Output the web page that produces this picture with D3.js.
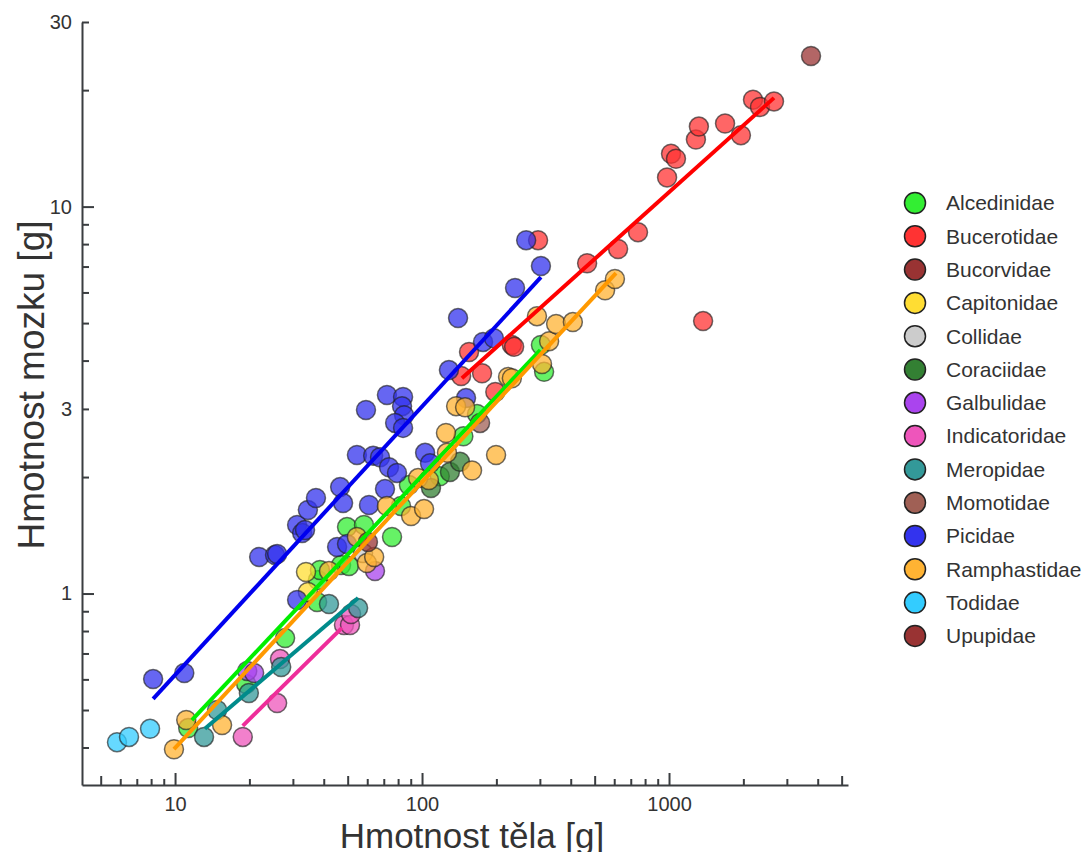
<!DOCTYPE html>
<html>
<head>
<meta charset="utf-8">
<script src="https://cdn.jsdelivr.net/npm/d3@7"></script>
<style>
body { margin: 0; background: #fff; }
svg { display: block; }
text { font-family: "Liberation Sans", Arial, sans-serif; fill: #333; }
</style>
</head>
<body>
<script>
// families in legend order
var families = ["Alcedinidae", "Bucerotidae", "Bucorvidae", "Capitonidae", "Collidae", "Coraciidae", "Galbulidae",
    "Indicatoridae", "Meropidae", "Momotidae", "Picidae", "Ramphastidae", "Todidae", "Upupidae"];
var familyColors = ["#33ee33", "#ff3333", "#993333", "#ffdd33", "#cccccc", "#338033", "#aa44ee",
    "#ee55bb", "#339999", "#a06055", "#3333ee", "#ffb333", "#33ccff", "#993333"];

// body mass [g] and brain mass [g] per family
var bodyAlcedinidae = [11.3, 19.4, 27.9, 37.6, 37.9, 38.6, 47.0, 50.6, 49.7, 58.2, 75.6, 82.2, 88.5, 118, 147, 167, 303, 312];
var brainAlcedinidae = [0.449, 0.584, 0.767, 0.951, 1.084, 1.150, 1.185, 1.178, 1.485, 1.503, 1.40, 1.683, 1.907, 2.01, 2.55, 2.91, 4.39, 3.74];
var bodyBucerotidae = [144, 155, 175, 198, 231, 236, 295, 466, 622, 749, 982, 1019, 1067, 1285, 1321, 1686, 1955, 2188, 2335, 2661, 1374];
var brainBucerotidae = [3.65, 4.21, 3.71, 3.32, 4.39, 4.34, 8.19, 7.14, 7.77, 8.59, 11.9, 13.7, 13.3, 14.9, 16.1, 16.4, 15.3, 18.9, 18.1, 18.7, 5.06];
var bodyBucorvidae = [3758];
var brainBucorvidae = [24.5];
var bodyCapitonidae = [33.9, 34.5];
var brainCapitonidae = [1.137, 1.009];
var bodyCollidae = [57.7];
var brainCollidae = [1.272];
var bodyCoraciidae = [108.7, 129.7, 142.5];
var brainCoraciidae = [1.874, 2.06, 2.19];
var bodyGalbulidae = [19.6, 20.9, 64.5];
var brainGalbulidae = [0.631, 0.623, 1.143];
var bodyIndicatoridae = [18.8, 25.9, 26.6, 48.3, 51.1, 51.6];
var brainIndicatoridae = [0.426, 0.521, 0.677, 0.829, 0.829, 0.885];
var bodyMeropidae = [13.1, 14.8, 19.9, 26.9, 42.0, 55.1];
var brainMeropidae = [0.426, 0.500, 0.553, 0.646, 0.939, 0.917];
var bodyMomotidae = [171.8];
var brainMomotidae = [2.76];
var bodyPicidae = [8.15, 10.9, 21.9, 25.4, 25.9, 31.2, 32.7, 33.6, 34.5, 37.2, 31.2, 46.6, 47.9, 45.3, 49.7, 54.5, 63.4, 67.6, 73.5, 79.2,
    59.3, 72.1, 83.8, 83.0, 84.6, 77.8, 83.8, 70.8, 61.0, 102.9, 107.7, 128.5, 150.7, 139.9, 176.6, 195.5, 238, 264, 303];
var brainPicidae = [0.601, 0.623, 1.243, 1.257, 1.265, 1.503, 1.433, 1.459, 1.644, 1.765, 0.962, 1.884, 1.713, 1.319, 1.342, 2.28, 2.27, 2.25, 2.12, 2.05,
    2.98, 3.26, 3.22, 3.05, 2.89, 2.76, 2.68, 1.862, 1.693, 2.31, 2.17, 3.78, 3.20, 5.15, 4.47, 4.57, 6.16, 8.19, 7.02];
var bodyRamphastidae = [9.9, 11.1, 15.5, 42.0, 54.5, 59.8, 64.0, 72.1, 90.3, 101.9, 96.4, 106.6, 125, 126.2, 137.4, 149.4, 159.4, 199.4,
    223, 231, 292, 306, 327, 349, 408, 551, 604];
var brainRamphastidae = [0.396, 0.471, 0.457, 1.143, 1.40, 1.199, 1.243, 1.683, 1.586, 1.653, 1.988, 1.965, 2.60, 2.31, 3.05, 3.03, 2.08, 2.28,
    3.63, 3.60, 5.21, 3.92, 4.49, 4.97, 5.03, 6.08, 6.50];
var bodyTodidae = [5.82, 6.51, 7.92];
var brainTodidae = [0.413, 0.426, 0.447];
var bodyUpupidae = [60.4];
var brainUpupidae = [1.359];

// fitted lines (log-log regression), start/end points
var fitFamilies = ["Picidae", "Bucerotidae", "Alcedinidae", "Ramphastidae", "Meropidae", "Indicatoridae"];
var fitColors = ["#0000ee", "#ff0000", "#00ee00", "#ff9900", "#008b8b", "#ee2d9a"];
var fitBodyStart = [8.15, 145, 11.7, 9.9, 13.2, 18.8];
var fitBodyEnd = [303, 2661, 301, 610, 55.1, 47.4];
var fitBrainStart = [0.534, 3.60, 0.471, 0.396, 0.447, 0.455];
var fitBrainEnd = [6.57, 19.1, 4.26, 6.73, 0.974, 0.815];

var xTickLabels = [10, 100, 1000];
var yTickLabels = [1, 3, 10, 30];

var bodies = [bodyAlcedinidae, bodyBucerotidae, bodyBucorvidae, bodyCapitonidae, bodyCollidae, bodyCoraciidae, bodyGalbulidae,
    bodyIndicatoridae, bodyMeropidae, bodyMomotidae, bodyPicidae, bodyRamphastidae, bodyTodidae, bodyUpupidae];
var brains = [brainAlcedinidae, brainBucerotidae, brainBucorvidae, brainCapitonidae, brainCollidae, brainCoraciidae, brainGalbulidae,
    brainIndicatoridae, brainMeropidae, brainMomotidae, brainPicidae, brainRamphastidae, brainTodidae, brainUpupidae];

var points = [];
families.forEach(function(f, i) {
    bodies[i].forEach(function(b, j) {
        points.push({family: f, color: familyColors[i], body: b, brain: brains[i][j]});
    });
});

var width = 1086, height = 852;
var plotLeft = 82, plotRight = 848, plotTop = 22, plotBottom = 785;

var svg = d3.select("body").append("svg")
    .attr("width", width)
    .attr("height", height);

var x = d3.scaleLog().domain([4.2, 5305]).range([plotLeft, plotRight]);
var y = d3.scaleLog().domain([0.32, 30]).range([plotBottom, plotTop]);

// log ticks 1..9 per decade
function logTicks(domain) {
    var out = [];
    for (var e = -2; e <= 4; e++) {
        for (var m = 1; m <= 9; m++) {
            var v = +(m * Math.pow(10, e)).toPrecision(6);
            if (v >= domain[0] * 0.999 && v <= domain[1] * 1.001) out.push(v);
        }
    }
    return out;
}
function isDecade(v) { return Math.abs(Math.log10(v) - Math.round(Math.log10(v))) < 1e-6; }
function isFive(v) { return Math.abs(Math.log10(v / 5) - Math.round(Math.log10(v / 5))) < 1e-6; }

// x axis
var gx = svg.append("g")
    .attr("transform", "translate(0," + plotBottom + ")")
    .call(d3.axisBottom(x)
        .tickValues(logTicks(x.domain()))
        .tickFormat(function(d) { return xTickLabels.indexOf(d) >= 0 ? d : ""; })
        .tickSizeInner(-6)
        .tickSizeOuter(0)
        .tickPadding(12));
gx.selectAll(".tick line").attr("y2", function(d) { return isDecade(d) ? -12 : (isFive(d) ? -9 : -6); });

// y axis
var gy = svg.append("g")
    .attr("transform", "translate(" + plotLeft + ",0)")
    .call(d3.axisLeft(y)
        .tickValues(logTicks(y.domain()))
        .tickFormat(function(d) { return yTickLabels.indexOf(d) >= 0 ? d : ""; })
        .tickSizeInner(-7)
        .tickSizeOuter(0)
        .tickPadding(10));
gy.selectAll(".tick line").attr("x2", function(d) { return isDecade(d) ? 12 : 7; });

svg.selectAll(".domain, .tick line").attr("stroke", "#3a3d40").attr("stroke-width", 2);
svg.selectAll(".tick text").attr("font-size", 20).attr("fill", "#333")
    .attr("font-family", "'Liberation Sans', Arial, sans-serif");

// points
svg.append("g").selectAll("circle")
    .data(points)
    .enter().append("circle")
    .attr("cx", function(d) { return x(d.body); })
    .attr("cy", function(d) { return y(d.brain); })
    .attr("r", 9.5)
    .attr("fill", function(d) { return d.color; })
    .attr("fill-opacity", 0.75)
    .attr("stroke", "#222")
    .attr("stroke-opacity", 0.65)
    .attr("stroke-width", 1.5);

// regression lines
svg.append("g").selectAll("line")
    .data(fitFamilies)
    .enter().append("line")
    .attr("x1", function(d, i) { return x(fitBodyStart[i]); })
    .attr("y1", function(d, i) { return y(fitBrainStart[i]); })
    .attr("x2", function(d, i) { return x(fitBodyEnd[i]); })
    .attr("y2", function(d, i) { return y(fitBrainEnd[i]); })
    .attr("stroke", function(d, i) { return fitColors[i]; })
    .attr("stroke-width", 4);

// axis titles
svg.append("text")
    .attr("transform", "translate(44,385) rotate(-90)")
    .attr("text-anchor", "middle")
    .attr("font-size", 37)
    .text("Hmotnost mozku [g]");

svg.append("text")
    .attr("x", 472)
    .attr("y", 848)
    .attr("text-anchor", "middle")
    .attr("font-size", 35)
    .text("Hmotnost těla [g]");

// legend
var legend = svg.append("g").selectAll("g")
    .data(families)
    .enter().append("g")
    .attr("transform", function(d, i) { return "translate(915," + (203 + i * 33.3) + ")"; });
legend.append("circle")
    .attr("r", 10.5)
    .attr("fill", function(d, i) { return familyColors[i]; })
    .attr("stroke", "#222")
    .attr("stroke-width", 1.5);
legend.append("text")
    .attr("x", 31)
    .attr("dy", "0.35em")
    .attr("font-size", 21)
    .text(function(d) { return d; });
</script>
</body>
</html>
